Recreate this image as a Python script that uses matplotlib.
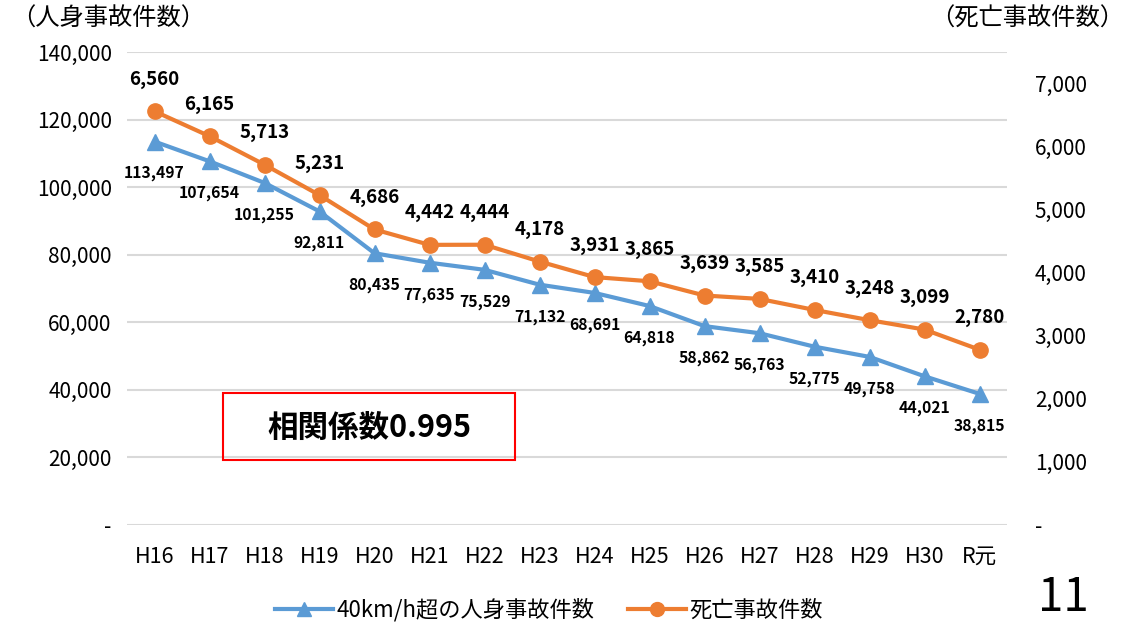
import matplotlib
matplotlib.use("Agg")
import matplotlib.pyplot as plt
from matplotlib.lines import Line2D
from matplotlib.patches import Rectangle
from matplotlib.ticker import FuncFormatter, MultipleLocator

plt.rcParams['font.family'] = ['Noto Sans CJK JP', 'DejaVu Sans']

# Fiscal years
years = ["H16", "H17", "H18", "H19", "H20", "H21", "H22", "H23",
         "H24", "H25", "H26", "H27", "H28", "H29", "H30", "R元"]
# Injury accidents involving speeds over 40 km/h
injury_accidents = [113497, 107654, 101255, 92811, 80435, 77635, 75529, 71132,
                    68691, 64818, 58862, 56763, 52775, 49758, 44021, 38815]
# Fatal accidents
fatal_accidents = [6560, 6165, 5713, 5231, 4686, 4442, 4444, 4178,
                   3931, 3865, 3639, 3585, 3410, 3248, 3099, 2780]
correlation_text = "相関係数0.995"

BLUE = "#5B9BD5"
ORANGE = "#ED7D31"
W, H = 1141, 623

fig = plt.figure(figsize=(W / 100, H / 100), dpi=100)
ax = fig.add_axes([127 / W, 1 - 525 / H, 880 / W, 473 / H])
ax2 = ax.twinx()

x = list(range(len(years)))

ax.plot(x, injury_accidents, color=BLUE, lw=3, marker="^", ms=11,
        zorder=3, clip_on=False)
ax2.plot(x, fatal_accidents, color=ORANGE, lw=3, marker="o", ms=11,
         zorder=3, clip_on=False)

for xi, v in zip(x, injury_accidents):
    ax.annotate(f"{v:,}", (xi, v), xytext=(0, -23), textcoords="offset points",
                ha="center", va="center", fontsize=11.3, fontweight="bold",
                color="black")
for xi, v in zip(x, fatal_accidents):
    ax2.annotate(f"{v:,}", (xi, v), xytext=(0, 23), textcoords="offset points",
                 ha="center", va="center", fontsize=13.5, fontweight="bold",
                 color="black")

ax.set_xlim(-0.5, len(years) - 0.5)
ax.set_ylim(0, 140000)
ax2.set_ylim(0, 7500)
ax.yaxis.set_major_locator(MultipleLocator(20000))
ax2.yaxis.set_major_locator(MultipleLocator(1000))

dash_fmt = FuncFormatter(lambda v, p: "-" if v == 0 else f"{v:,.0f}")
ax.yaxis.set_major_formatter(dash_fmt)
ax2.yaxis.set_major_formatter(dash_fmt)

ax.set_xticks(x)
ax.set_xticklabels(years)

ax.grid(axis="y", color="#D9D9D9", lw=1.5, zorder=0)
ax.set_axisbelow(True)
for a in (ax, ax2):
    for s in a.spines.values():
        s.set_visible(False)
ax.tick_params(axis="y", length=0, labelsize=15, colors="black", pad=11)
ax.tick_params(axis="x", length=0, labelsize=15.5, colors="black", pad=15)
ax2.tick_params(axis="y", length=0, labelsize=15, pad=20, colors="black")
for lbl in ax2.get_yticklabels():
    lbl.set_ha("left")

# Axis captions
fig.text(11 / W, 1 - 19 / H, "（人身事故件数）", fontsize=17.5, ha="left", va="center")
fig.text(1124 / W, 1 - 19 / H, "（死亡事故件数）", fontsize=17.5, ha="right", va="center")

# Correlation box
fig.patches.append(Rectangle((223 / W, 1 - 460 / H), 292 / W, 67 / H,
                             transform=fig.transFigure, fill=False,
                             edgecolor="#FF0000", lw=1.5))
fig.text(369 / W, 1 - 428 / H, correlation_text, fontsize=22, fontweight="bold",
         ha="center", va="center")

# Legend
handles = [
    Line2D([], [], color=BLUE, lw=3, marker="^", ms=10),
    Line2D([], [], color=ORANGE, lw=3, marker="o", ms=10),
]
fig.legend(handles, ["40km/h超の人身事故件数", "死亡事故件数"],
           loc="center", bbox_to_anchor=(549 / W, 1 - 610 / H), ncol=2,
           frameon=False, fontsize=16, handlelength=2.6, columnspacing=1.5,
           handletextpad=0.15)

# Page number
fig.text(1063 / W, 1 - 598 / H, "11", fontsize=33, ha="center", va="center")

fig.savefig("out.png", dpi=100)
